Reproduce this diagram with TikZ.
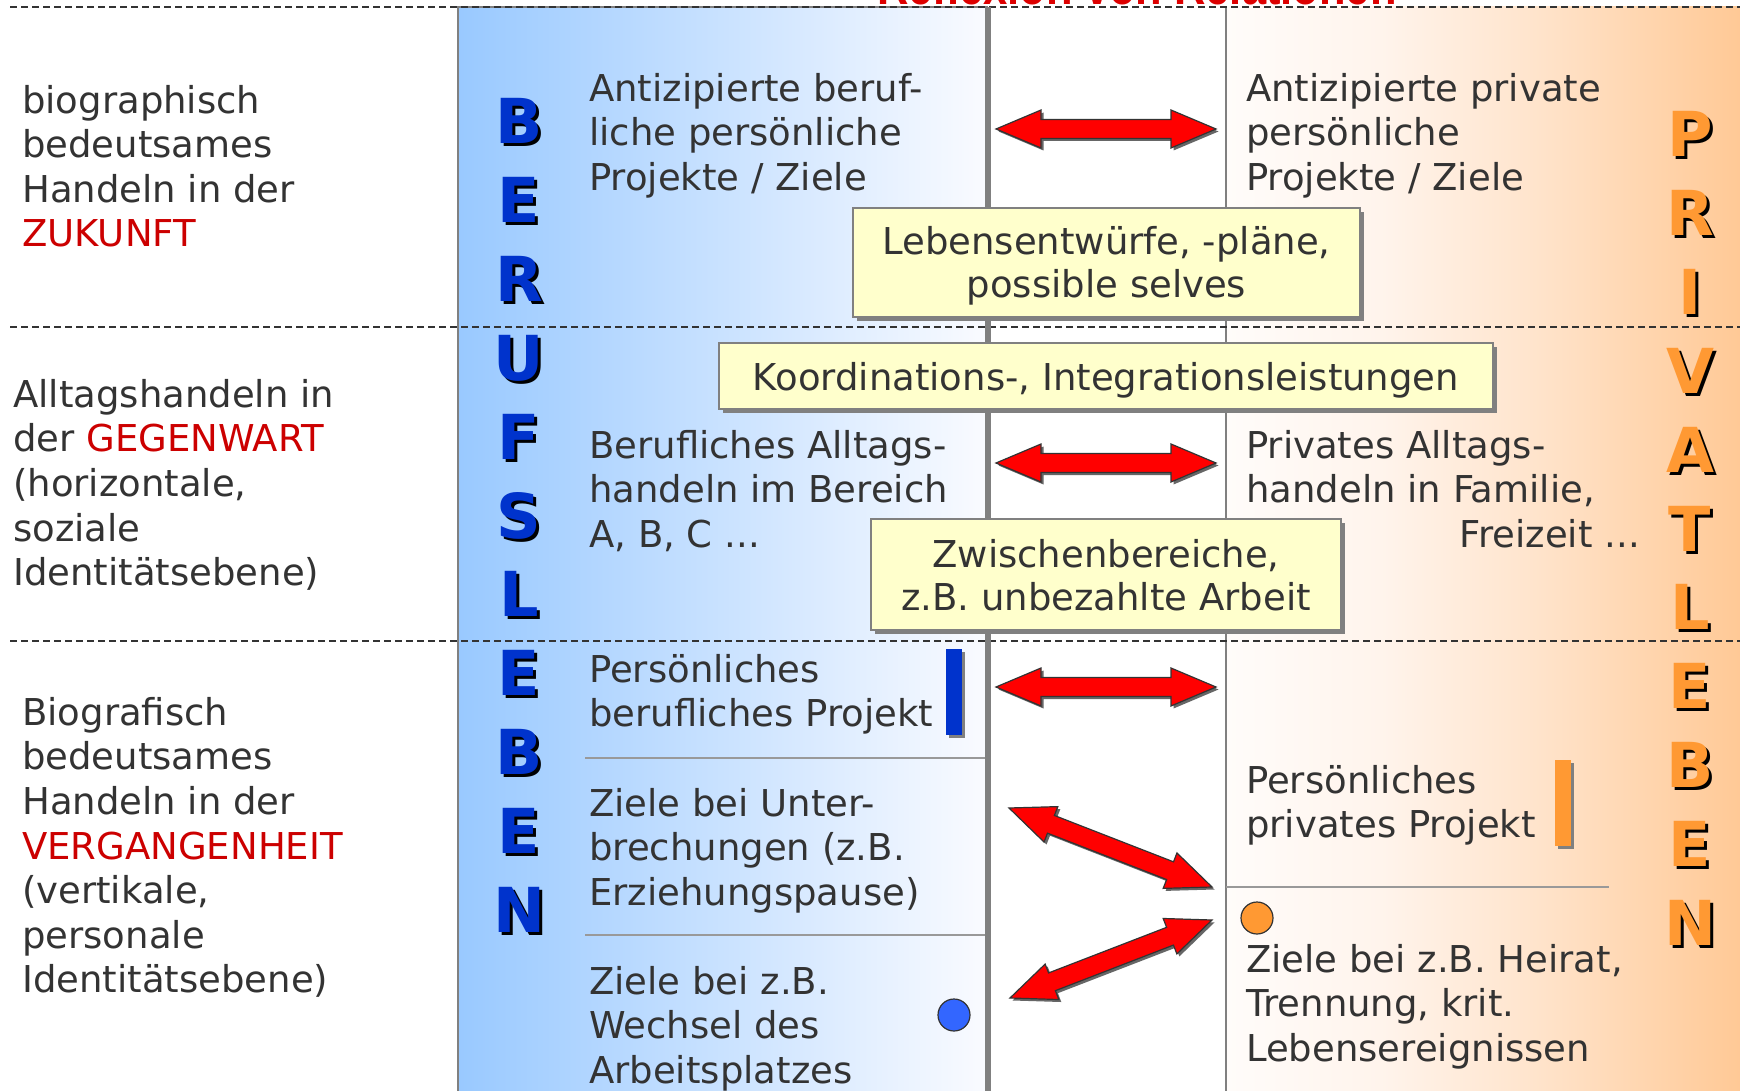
\documentclass[tikz,border=0pt]{standalone}
\usepackage{fontspec}
\usepackage{graphicx}
\setmainfont{DejaVu Sans}
\newfontfamily\titlefont{Liberation Sans}
\usetikzlibrary{calc,shadows}
\definecolor{txt}{HTML}{333333}
\definecolor{hired}{HTML}{CC0000}
\definecolor{titlered}{HTML}{DD0000}
\definecolor{blueL}{HTML}{99C9FF}
\definecolor{blueR}{HTML}{FAFBFF}
\definecolor{oW}{HTML}{FFFCFA}
\definecolor{oMa}{HTML}{FFF4EC}
\definecolor{oMb}{HTML}{FFE4CC}
\definecolor{oR}{HTML}{FFC996}
\definecolor{ltrblue}{HTML}{0033CC}
\definecolor{ltrorange}{HTML}{FF9933}
\definecolor{boxyellow}{HTML}{FFFFCC}
\definecolor{dotblue}{HTML}{3366FF}
\definecolor{midgray}{HTML}{808080}
\definecolor{sepgray}{HTML}{999999}
\pgfdeclarehorizontalshading{orangeshade}{100bp}{color(0bp)=(oW); color(25bp)=(oW); color(40bp)=(oMa); color(55bp)=(oMb); color(75bp)=(oR); color(100bp)=(oR)}
\pgfdeclarehorizontalshading{blueshade}{100bp}{color(0bp)=(blueL); color(25bp)=(blueL); color(75bp)=(blueR); color(100bp)=(blueR)}
\newcommand\fs{\rule{0pt}{33.3pt}}
\newcommand\bs{\rule{0pt}{37pt}}
\newcommand\es{\rule[-9pt]{0pt}{9pt}}
\tikzset{
  tb/.style={anchor=north west, inner sep=0pt, align=left, font=\fontsize{37}{44.6}\selectfont, text=txt},
  ybox/.style={draw=midgray, line width=2pt, fill=boxyellow, inner sep=0pt, align=center,
     font=\fontsize{37}{43}\selectfont, text=txt,
     drop shadow={shadow xshift=4pt, shadow yshift=-4pt, opacity=1, fill=midgray}},
  dashline/.style={draw=txt, line width=1.8pt, dash pattern=on 7pt off 4pt},
  arrowstyle/.style={fill=red, draw=black!80, line width=1.2pt, line join=miter,
     drop shadow={shadow xshift=2.5pt, shadow yshift=-2.5pt, opacity=1, fill=black!60}},
  vletter/.style={inner sep=0pt, text height=45pt, text depth=0pt, anchor=center,
     font=\bfseries\fontsize{62}{62}\selectfont},
  dot/.style={circle, draw=txt, line width=1.2pt, minimum size=32pt, inner sep=0pt},
  bar/.style={inner sep=0pt, minimum width=16pt, minimum height=86pt,
     drop shadow={shadow xshift=3pt, shadow yshift=-3pt, opacity=1, fill=midgray}},
  sepline/.style={draw=sepgray, line width=2pt}
}
\newcommand\dblarrow[2]{%
  \filldraw[arrowstyle] (#1)
    -- ($(#1)!45pt!(#2)!19pt!90:(#2)$)
    -- ($(#1)!45pt!(#2)!9.5pt!90:(#2)$)
    -- ($(#2)!45pt!(#1)!9.5pt!-90:(#1)$)
    -- ($(#2)!45pt!(#1)!19pt!-90:(#1)$)
    -- (#2)
    -- ($(#2)!45pt!(#1)!19pt!90:(#1)$)
    -- ($(#2)!45pt!(#1)!9.5pt!90:(#1)$)
    -- ($(#1)!45pt!(#2)!9.5pt!-90:(#2)$)
    -- ($(#1)!45pt!(#2)!19pt!-90:(#2)$)
    -- cycle;}
\begin{document}
\begin{tikzpicture}[x=1pt,y=-1pt]
\useasboundingbox (0,0) rectangle (1740,1091);
\clip (0,0) rectangle (1740,1091);
\fill[white] (0,0) rectangle (1740,1091);
% panels
\fill[shading=blueshade] (458,7) rectangle (988,1091);
\draw[midgray, line width=1.5pt] (458,1091) -- (458,7) -- (988,7);
\fill[shading=orangeshade] (1226,7) rectangle (1740,1091);
\draw[midgray, line width=1.5pt] (1226,7) -- (1226,1091);
% separators
\draw[sepline] (585,758) -- (986,758);
\draw[sepline] (585,935) -- (986,935);
\draw[sepline] (1226,887) -- (1609,887);
% dashed level lines
\draw[dashline] (10,7) -- (1740,7);
\draw[dashline] (10,327) -- (1740,327);
\draw[dashline] (10,641) -- (1740,641);
% thick divider
\draw[midgray, line width=6pt] (988,7) -- (988,1091);
% title (cut off at top)
\node[anchor=base, inner sep=0pt, text=titlered, font=\titlefont\bfseries\fontsize{53}{60}\selectfont] (title) at (1137,5) {\scalebox{0.82}[1]{Reflexion von Relationen}};
% vertical words
\foreach \l [count=\i from 0] in {B,E,R,U,F,S,L,E,B,E,N} {
  \node[vletter, text=black] (bls\i) at ({522}, {124+78.9*\i}) {\l};
  \node[vletter, text=ltrblue] (bl\i) at ({519}, {121+78.9*\i}) {\l};
}
\foreach \l [count=\i from 0] in {P,R,I,V,A,T,L,E,B,E,N} {
  \node[vletter, text=black] (ols\i) at ({1693}, {137+78.9*\i}) {\l};
  \node[vletter, text=ltrorange] (ol\i) at ({1690}, {134+78.9*\i}) {\l};
}
% left column
\node[tb] (tZuk) at (22,79.7) {\fs biographisch\\bedeutsames\\Handeln in der\\\textcolor{hired}{ZUKUNFT}};
\node[tb] (tGeg) at (13,373.7) {\fs Alltagshandeln in\\der \textcolor{hired}{GEGENWART}\\(horizontale,\\soziale\\Identitätsebene)};
\node[tb] (tVer) at (22,691.7) {\fs Biografisch\\bedeutsames\\Handeln in der\\\textcolor{hired}{VERGANGENHEIT}\\(vertikale,\\personale\\Identitätsebene)};
% blue panel texts
\node[tb] (tAntB) at (589,67.7) {\fs Antizipierte beruf-\\liche persönliche\\Projekte / Ziele};
\node[tb] (tBerA) at (589,424.7) {\fs Berufliches Alltags-\\handeln im Bereich\\A, B, C ...};
\node[tb] (tPersB) at (589,648.7) {\fs Persönliches\\berufliches Projekt};
\node[tb] (tUnter) at (589,782.7) {\fs Ziele bei Unter-\\brechungen (z.B.\\Erziehungspause)};
\node[tb] (tWechsel) at (589,960.7) {\fs Ziele bei z.B.\\Wechsel des\\Arbeitsplatzes};
% orange panel texts
\node[tb] (tAntP) at (1246,67.7) {\fs Antizipierte private\\persönliche\\Projekte / Ziele};
\node[tb] (tPrivA) at (1246,424.7) {\fs Privates Alltags-\\handeln in Familie,};
\node[anchor=base east, inner sep=0pt, font=\fontsize{37}{44.6}\selectfont, text=txt] (tFrei) at (1640,547.2) {Freizeit ...};
\node[tb] (tPersP) at (1246,759.7) {\fs Persönliches\\privates Projekt};
\node[tb] (tHeirat) at (1246,938.7) {\fs Ziele bei z.B. Heirat,\\Trennung, krit.\\Lebensereignissen};
% bars and dots
\node[bar, fill=ltrblue] (bbar) at (954,692) {};
\node[bar, fill=ltrorange] (obar) at (1563,803) {};
\node[dot, fill=dotblue] (bdot) at (954,1015) {};
\node[dot, fill=ltrorange] (odot) at (1257,918) {};
% arrows
\coordinate (h1a) at (996,129); \coordinate (h1b) at (1216,129);
\coordinate (h2a) at (996,463); \coordinate (h2b) at (1216,463);
\coordinate (h3a) at (996,687); \coordinate (h3b) at (1216,687);
\coordinate (d1a) at (1009,808); \coordinate (d1b) at (1212,887);
\coordinate (d2a) at (1010,998); \coordinate (d2b) at (1212,920);
\dblarrow{h1a}{h1b}
\dblarrow{h2a}{h2b}
\dblarrow{h3a}{h3b}
\dblarrow{d1a}{d1b}
\dblarrow{d2a}{d2b}
% yellow boxes
\node[ybox, minimum width=507pt, minimum height=109pt] (lebens) at (1106.5,262.5) {\bs Lebensentwürfe, -pläne,\\possible selves\es};
\node[ybox, minimum width=774pt, minimum height=66pt] (koord) at (1106,376) {\bs Koordinations-, Integrationsleistungen\es};
\node[ybox, minimum width=470pt, minimum height=111pt] (zwischen) at (1106,574.5) {\bs Zwischenbereiche,\\z.B. unbezahlte Arbeit\es};
\end{tikzpicture}
\end{document}
